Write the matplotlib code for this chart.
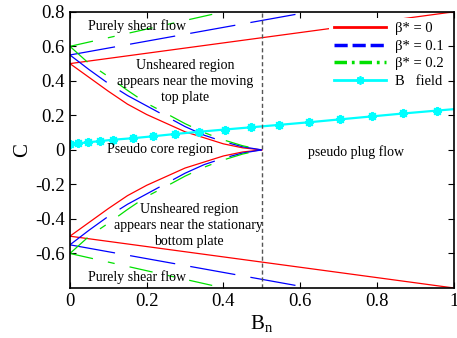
import matplotlib
matplotlib.use('Agg')
import matplotlib.pyplot as plt

plt.rcParams['font.family'] = ['Liberation Serif', 'DejaVu Serif']
plt.rcParams['mathtext.fontset'] = 'custom'
plt.rcParams['mathtext.rm'] = 'Liberation Serif'
plt.rcParams['mathtext.it'] = 'Liberation Serif:italic'
plt.rcParams['lines.scale_dashes'] = False

# straight boundaries (upper branch; lower branch is the mirror)
bn_line = [0.0, 1.0]
c_line_b0 = [0.5, 0.8]
bn_line_b1 = [0.0, 0.625]
c_line_b1 = [0.55, 0.8]
bn_line_b2 = [0.0, 0.4]
c_line_b2 = [0.6, 0.8]

# curved boundaries, from the plate value down to zero at Bn = 0.5
bn_curve = [0.0, 0.05, 0.1, 0.15, 0.2, 0.25, 0.3, 0.35, 0.4, 0.45, 0.5]
c_curve_b0 = [0.5, 0.42, 0.34, 0.265, 0.205, 0.155, 0.105, 0.07, 0.035, 0.012, 0.0]
c_curve_b1 = [0.55, 0.465, 0.385, 0.315, 0.255, 0.195, 0.135, 0.085, 0.048, 0.018, 0.0]
c_curve_b2 = [0.6, 0.5, 0.425, 0.345, 0.27, 0.212, 0.152, 0.1, 0.058, 0.024, 0.0]

# B field
bn_field = [0.0, 0.021, 0.047, 0.078, 0.113, 0.165, 0.217, 0.273, 0.336, 0.403,
            0.472, 0.545, 0.622, 0.704, 0.786, 0.868, 0.957, 1.0]
c_field = [0.035, 0.038, 0.044, 0.051, 0.059, 0.068, 0.079, 0.092, 0.105, 0.118,
           0.131, 0.145, 0.16, 0.177, 0.194, 0.211, 0.228, 0.236]

xticks = [0, 0.2, 0.4, 0.6, 0.8, 1]
xtick_labels = ['0', '0.2', '0.4', '0.6', '0.8', '1']
yticks = [-0.6, -0.4, -0.2, 0, 0.2, 0.4, 0.6, 0.8]
ytick_labels = ['-0.6', '-0.4', '-0.2', '0', '0.2', '0.4', '0.6', '0.8']

fig = plt.figure(figsize=(4.57, 3.38), dpi=100)
ax = fig.add_axes([0.153, 0.148, 0.840, 0.817])

lw = 0.9
red = '#ff0000'
blue = '#0000ff'
green = '#00e000'
dash_b1 = (33, 11)
dash_b2 = (17, 11, 5, 11)

def neg(v):
    return [-a for a in v]

# beta* = 0
ax.plot(bn_line, c_line_b0, color=red, lw=lw)
ax.plot(bn_line, neg(c_line_b0), color=red, lw=lw)
ax.plot(bn_curve, c_curve_b0, color=red, lw=lw)
ax.plot(bn_curve, neg(c_curve_b0), color=red, lw=lw)
# beta* = 0.1
for x, y in [(bn_line_b1, c_line_b1), (bn_curve, c_curve_b1)]:
    ax.plot(x, y, color=blue, lw=lw, dashes=dash_b1)
    ax.plot(x, neg(y), color=blue, lw=lw, dashes=dash_b1)
# beta* = 0.2
for x, y in [(bn_line_b2, c_line_b2), (bn_curve, c_curve_b2)]:
    ax.plot(x, y, color=green, lw=lw, dashes=dash_b2)
    ax.plot(x, neg(y), color=green, lw=lw, dashes=dash_b2)
# B field
star = (8, 2, 0)
ax.plot(bn_field[:-1], c_field[:-1], color='cyan', lw=1.6, marker=star,
        markersize=6.5, markeredgewidth=1.4)
ax.plot(bn_field[-2:], c_field[-2:], color='cyan', lw=1.6)

ax.axvline(0.5, color='#555555', lw=1, ls=(0, (3, 2)))

# legend proxies
h0, = ax.plot([], [], color=red, lw=2)
h1, = ax.plot([], [], color=blue, lw=2.5, dashes=(9.5, 3.5))
h2, = ax.plot([], [], color=green, lw=2.5, dashes=(9, 3.5, 2, 3.5))
h3, = ax.plot([], [], color='cyan', lw=2, marker=star, markersize=6,
              markeredgewidth=1.3, markevery=[0, 1])
ax.legend([h0, h1, h2, h3], ['β* = 0', 'β* = 0.1', 'β* = 0.2', 'B   field'],
          loc='upper right', fontsize=10.5, handlelength=3.6, frameon=True,
          fancybox=False, edgecolor='none', framealpha=1,
          borderaxespad=0.4, labelspacing=0.3, borderpad=0.3, handletextpad=0.6)

ts = 10
ax.text(0.175, 0.715, 'Purely shear flow', fontsize=ts, ha='center', va='center')
ax.text(0.3, 0.395, 'Unsheared region\nappears near the moving\ntop plate',
        fontsize=ts, ha='center', va='center', linespacing=1.3)
ax.text(0.235, 0.0, 'Pseudo core region', fontsize=ts, ha='center', va='center')
ax.text(0.745, -0.01, 'pseudo plug flow', fontsize=ts, ha='center', va='center')
ax.text(0.31, -0.44, 'Unsheared region\nappears near the stationary\nbottom plate',
        fontsize=ts, ha='center', va='center', linespacing=1.3)
ax.text(0.175, -0.737, 'Purely shear flow', fontsize=ts, ha='center', va='center')

ax.set_xlim(0, 1)
ax.set_ylim(-0.8, 0.8)
ax.set_xticks(xticks)
ax.set_xticklabels(xtick_labels)
ax.set_yticks(yticks)
ax.set_yticklabels(ytick_labels)
ax.tick_params(direction='in', top=True, right=True, labelsize=13.5, length=4, width=0.8)
for s in ax.spines.values():
    s.set_linewidth(1.2)

ax.set_xlabel('B$_{\\rm n}$', fontsize=15, labelpad=2)
ax.set_ylabel('C', fontsize=15, labelpad=2)

fig.savefig('out.png', dpi=100)
